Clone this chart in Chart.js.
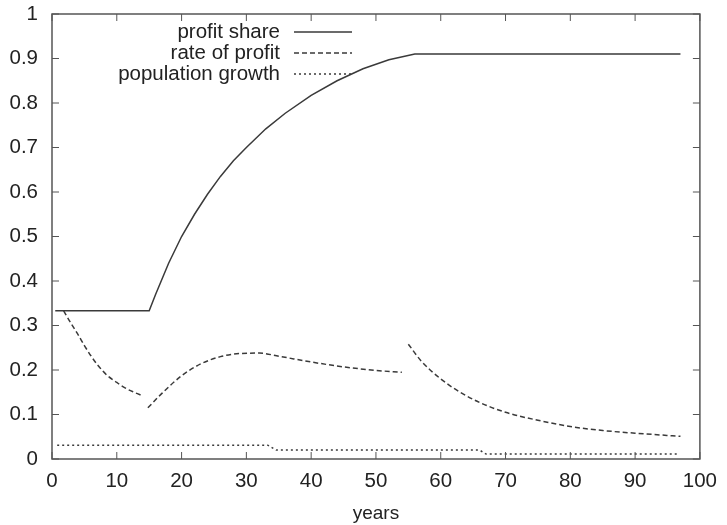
<!DOCTYPE html>
<html>
<head>
<meta charset="utf-8">
<script src="https://cdn.jsdelivr.net/npm/chart.js@4.4.1/dist/chart.umd.min.js"></script>
<style>
  html, body { margin: 0; padding: 0; background: #fff; }
  #wrap { width: 727px; height: 525px; position: relative; }
</style>
</head>
<body>
<div id="wrap"><canvas id="c"></canvas></div>
<script>
// profit share: flat, rising, flat
const SHARE_X = [0.5, 15, 16, 17, 18, 20, 22, 24, 26, 28, 30, 33, 36, 40, 44, 48, 52, 56, 97];
const SHARE_Y = [0.333, 0.333, 0.37, 0.405, 0.44, 0.50, 0.55, 0.595, 0.635, 0.67, 0.70, 0.742, 0.777, 0.817, 0.85, 0.877, 0.897, 0.91, 0.91];

// rate of profit, three pieces (null marks a break)
const RATE_X = [1.8, 2.8, 4, 5, 6, 7, 8.5, 10, 11, 12.5, 14, 14.4, 14.8, 17, 20, 23, 26, 29, 32, 35, 40, 45, 50, 54, 54.5, 55, 57, 60, 63, 66, 70, 75, 80, 85, 90, 97];
const RATE_Y = [0.333, 0.308, 0.28, 0.255, 0.232, 0.212, 0.188, 0.172, 0.162, 0.151, 0.142, null, 0.115, 0.148, 0.187, 0.214, 0.23, 0.237, 0.238, 0.231, 0.218, 0.207, 0.199, 0.195, null, 0.258, 0.22, 0.18, 0.15, 0.127, 0.105, 0.087, 0.073, 0.064, 0.058, 0.051];

// population growth, step-down
const POP_X = [0.8, 33.3, 34.6, 66, 67, 96.8];
const POP_Y = [0.031, 0.031, 0.02, 0.02, 0.011, 0.011];

const X_TICKS = [0, 10, 20, 30, 40, 50, 60, 70, 80, 90, 100];
const Y_TICKS = [0, 0.1, 0.2, 0.3, 0.4, 0.5, 0.6, 0.7, 0.8, 0.9, 1];

const LEGEND = ["profit share", "rate of profit", "population growth"];
const INK = "#3a3a3a";
const FONT = "'Liberation Sans', Arial, sans-serif";

const pts = (xs, ys) => xs.map((x, i) => ({ x, y: ys[i] }));

const dashes = [[], [5, 3], [2, 3]];

const frame = {
  id: "frame",
  afterDraw(chart) {
    const { ctx, chartArea: a, scales: { x, y } } = chart;
    ctx.save();
    ctx.strokeStyle = "#555";
    ctx.lineWidth = 1.5;
    ctx.strokeRect(a.left, a.top, a.right - a.left, a.bottom - a.top);
    ctx.lineWidth = 1;
    ctx.beginPath();
    X_TICKS.forEach(v => {
      const px = x.getPixelForValue(v);
      ctx.moveTo(px, a.bottom); ctx.lineTo(px, a.bottom - 7);
      ctx.moveTo(px, a.top); ctx.lineTo(px, a.top + 7);
    });
    Y_TICKS.forEach(v => {
      const py = y.getPixelForValue(v);
      ctx.moveTo(a.left, py); ctx.lineTo(a.left + 7, py);
      ctx.moveTo(a.right, py); ctx.lineTo(a.right - 7, py);
    });
    ctx.stroke();

    // legend, gnuplot style
    ctx.font = "20.5px " + FONT;
    ctx.fillStyle = "#222";
    ctx.textAlign = "right";
    ctx.textBaseline = "alphabetic";
    const rows = [38, 59, 80];
    LEGEND.forEach((t, i) => {
      ctx.fillText(t, 280, rows[i]);
      ctx.beginPath();
      ctx.setLineDash(dashes[i]);
      ctx.strokeStyle = INK;
      ctx.lineWidth = 1.3;
      ctx.moveTo(294, rows[i] - 6);
      ctx.lineTo(352, rows[i] - 6);
      ctx.stroke();
    });
    ctx.restore();
  }
};

const ds = (label, data, dash, smooth) => ({
  label, data, borderDash: dash,
  borderColor: INK, borderWidth: 1.5,
  pointRadius: 0, showLine: true, spanGaps: false,
  tension: 0, cubicInterpolationMode: smooth ? "monotone" : "default", fill: false
});

const chart = new Chart(document.getElementById("c"), {
  type: "scatter",
  data: {
    datasets: [
      ds(LEGEND[0], pts(SHARE_X, SHARE_Y), dashes[0], false),
      ds(LEGEND[1], pts(RATE_X, RATE_Y), dashes[1], true),
      ds(LEGEND[2], pts(POP_X, POP_Y), dashes[2], false)
    ]
  },
  options: {
    responsive: true,
    maintainAspectRatio: false,
    animation: false,
    layout: { padding: { top: 14, right: 23, left: 0, bottom: 0 } },
    plugins: { legend: { display: false }, tooltip: { enabled: false } },
    scales: {
      x: {
        type: "linear", min: 0, max: 100,
        afterBuildTicks: s => { s.ticks = X_TICKS.map(v => ({ value: v })); },
        afterFit: s => { s.height = 66; },
        grid: { display: false, drawTicks: false },
        border: { display: false },
        ticks: { color: "#222", padding: 10, font: { size: 20.5, family: FONT }, callback: v => String(v) },
        title: { display: true, text: "years", color: "#222", padding: { top: 10, bottom: 0 }, font: { size: 19, family: FONT } }
      },
      y: {
        type: "linear", min: 0, max: 1,
        afterBuildTicks: s => { s.ticks = Y_TICKS.map(v => ({ value: v })); },
        afterFit: s => { s.width = 52; s.paddingTop = 0; s.paddingBottom = 0; },
        grid: { display: false, drawTicks: false },
        border: { display: false },
        ticks: { color: "#222", padding: 14, font: { size: 20.5, family: FONT }, callback: v => String(v) }
      }
    }
  },
  plugins: [frame]
});
</script>
</body>
</html>
